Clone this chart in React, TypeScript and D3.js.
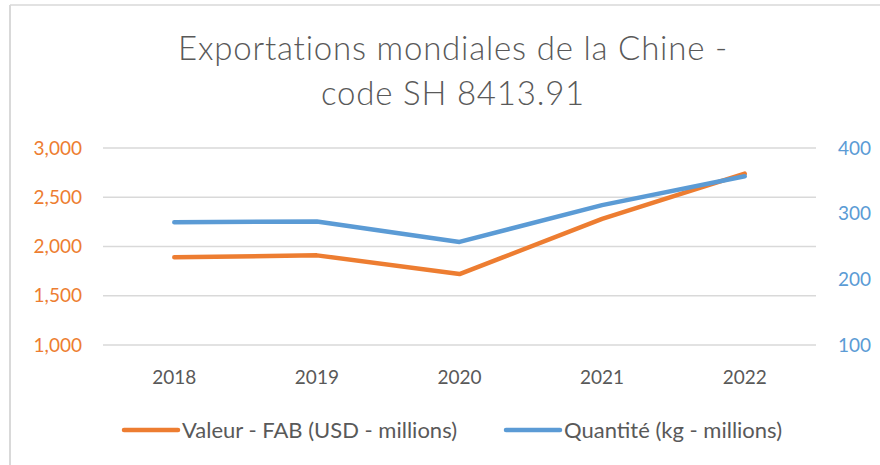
import React from "react";
import * as d3 from "d3";

const years = ["2018", "2019", "2020", "2021", "2022"];
const valeur = [1890, 1910, 1720, 2280, 2740];
const quantite = [287, 288, 257, 313, 357];
const leftTicks = [1000, 1500, 2000, 2500, 3000];
const rightTicks = [100, 200, 300, 400];
const titleLines = ["Exportations mondiales de la Chine -", "code SH 8413.91"];
const seriesNames = ["Valeur - FAB (USD - millions)", "Quantité (kg - millions)"];

const W = 880, H = 465;
const ORANGE = "#ED7D31", BLUE = "#5B9BD5", TXT = "#595959", GRID = "#D9D9D9";
const FONT = "Lato, 'Open Sans', sans-serif";

export default function App() {
  const x = d3.scaleBand<string>().domain(years).range([103, 816]);
  const yL = d3.scaleLinear().domain([1000, 3000]).range([345, 148]);
  const yR = d3.scaleLinear().domain([100, 400]).range([345, 148]);
  const cx = (d: string) => (x(d) as number) + x.bandwidth() / 2;
  const lineL = d3.line<number>().x((_, i) => cx(years[i])).y((d) => yL(d));
  const lineR = d3.line<number>().x((_, i) => cx(years[i])).y((d) => yR(d));

  return (
    <svg width={W} height={H} style={{ position: "absolute", left: 0, top: 0, background: "#fff" }} fontFamily={FONT}>
      <rect x={0} y={0} width={W} height={H} fill="#fff" />
      <line x1={10} y1={5} x2={W} y2={5} stroke={GRID} strokeWidth={1.5} />
      <line x1={10} y1={5} x2={10} y2={H} stroke={GRID} strokeWidth={2} />
      {titleLines.map((t, i) => (
        <text key={i} x={453} y={60 + i * 45} textAnchor="middle" fontSize={33} letterSpacing={0.8} fill={TXT} fontWeight={300}>
          {t}
        </text>
      ))}
      {leftTicks.map((t) => (
        <line key={t} x1={103} x2={816} y1={yL(t)} y2={yL(t)} stroke={GRID} strokeWidth={1.5} />
      ))}
      {leftTicks.map((t) => (
        <text key={"l" + t} x={82} y={yL(t)} dy="0.35em" textAnchor="end" fontSize={19} fill={ORANGE}>
          {d3.format(",")(t)}
        </text>
      ))}
      {rightTicks.map((t) => (
        <text key={"r" + t} x={838} y={yR(t)} dy="0.35em" textAnchor="start" fontSize={19} fill={BLUE}>
          {t}
        </text>
      ))}
      {years.map((y) => (
        <text key={y} x={cx(y)} y={384} textAnchor="middle" fontSize={19} fill={TXT}>
          {y}
        </text>
      ))}
      <path d={lineL(valeur) || ""} fill="none" stroke={ORANGE} strokeWidth={4.5} strokeLinejoin="round" strokeLinecap="round" />
      <path d={lineR(quantite) || ""} fill="none" stroke={BLUE} strokeWidth={4.5} strokeLinejoin="round" strokeLinecap="round" />
      <line x1={124} x2={178} y1={430} y2={430} stroke={ORANGE} strokeWidth={4.5} strokeLinecap="round" />
      <text x={182} y={430} dy="0.35em" fontSize={22} fill={TXT}>{seriesNames[0]}</text>
      <line x1={506} x2={560} y1={430} y2={430} stroke={BLUE} strokeWidth={4.5} strokeLinecap="round" />
      <text x={564} y={430} dy="0.35em" fontSize={22} fill={TXT}>{seriesNames[1]}</text>
    </svg>
  );
}
